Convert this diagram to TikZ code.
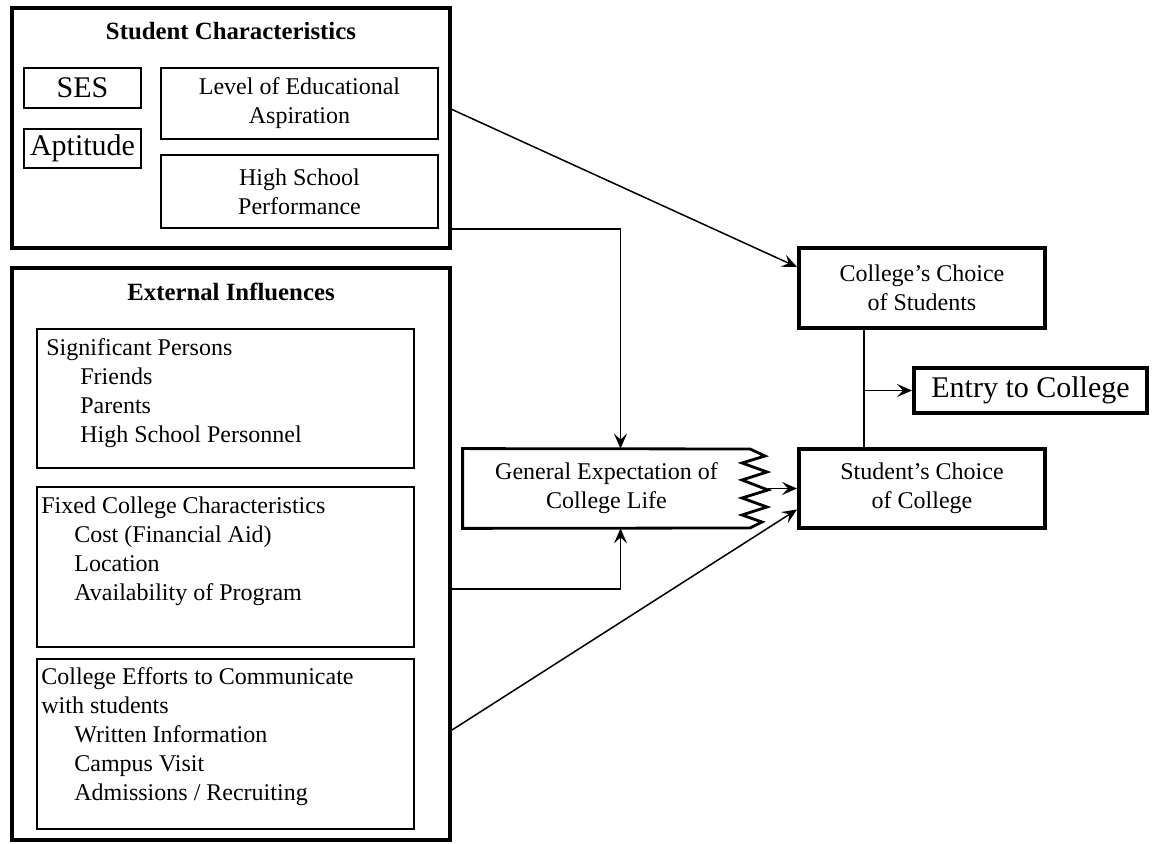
\documentclass[tikz,border=0pt]{standalone}
\usepackage{fontspec}
\setmainfont{Liberation Serif}
\usetikzlibrary{arrows.meta,calc}

\begin{document}
\begin{tikzpicture}[x=0.5pt,y=0.5pt,
    bigbox/.style={draw, line width=2pt, inner sep=0pt},
    smallbox/.style={draw, line width=1pt, inner sep=0pt, align=center, font=\fontsize{12}{14.5}\selectfont},
    choicebox/.style={draw, line width=2pt, inner sep=0pt, align=center, font=\fontsize{12}{14.5}\selectfont},
    heading/.style={font=\fontsize{12.4}{15}\selectfont\bfseries},
    listtext/.style={anchor=north west, inner sep=0pt, align=left, font=\fontsize{12}{14.5}\selectfont},
    link/.style={line width=0.75pt, -{Stealth[length=7.5pt,width=6.5pt,inset=3pt]}}]
    \useasboundingbox (0,0) rectangle (1155,844);

    \node[bigbox, minimum width=219pt, minimum height=120pt] (stud) at (231,716) {};
    \node[heading] (stitle) at (231,813) {Student Characteristics};
    \node[smallbox, minimum width=58.5pt, minimum height=20pt, font=\fontsize{15}{18}\selectfont] (ses) at (82.5,756) {SES};
    \node[smallbox, minimum width=58.5pt, minimum height=19.5pt, font=\fontsize{15}{18}\selectfont] (apt) at (82.5,695.5) {Aptitude};
    \node[smallbox, minimum width=138.5pt, minimum height=35.5pt] (level) at (299.5,740.5) {Level of Educational\\Aspiration};
    \node[smallbox, minimum width=138.5pt, minimum height=36.5pt] (hsp) at (299.5,652.5) {High School\\Performance};

    \node[bigbox, minimum width=219pt, minimum height=286pt] (ext) at (231,290) {};
    \node[heading] (etitle) at (231,552) {External Influences};
    \node[smallbox, minimum width=188.5pt, minimum height=69.5pt] (sig) at (225.5,445.5) {};
    \node[smallbox, minimum width=188.5pt, minimum height=80pt] (fixed) at (225.5,277) {};
    \node[smallbox, minimum width=188.5pt, minimum height=85pt] (effort) at (225.5,100) {};
    \node[listtext] (sigtxt) at ([xshift=5pt,yshift=-5pt]sig.north west)
        {Significant Persons\\ \hspace*{17pt}Friends\\ \hspace*{17pt}Parents\\ \hspace*{17pt}High School Personnel};
    \node[listtext] (fixedtxt) at ([xshift=2.5pt,yshift=-5pt]fixed.north west)
        {Fixed College Characteristics\\ \hspace*{16.5pt}Cost (Financial Aid)\\ \hspace*{16.5pt}Location\\ \hspace*{16.5pt}Availability of Program};
    \node[listtext] (efforttxt) at ([xshift=2.5pt,yshift=-4.5pt]effort.north west)
        {College Efforts to Communicate\\with students\\ \hspace*{16.5pt}Written Information\\ \hspace*{16.5pt}Campus Visit\\ \hspace*{16.5pt}Admissions / Recruiting};

    \node[align=center, inner sep=0pt, minimum width=143.5pt, minimum height=39.5pt, font=\fontsize{12}{14.5}\selectfont] (gen) at (606.5,355.5) {General Expectation of\\College Life};
    \draw[line width=1.4pt] (gen.north west) -- (750,395) -- (765,388) -- (742,381) -- (767,372) -- (742,364)
        -- (768,354) -- (742,346) -- (767,337) -- (742,329) -- (762,322) -- (750,316) -- (gen.south west) -- cycle;
    \coordinate (zigtip) at (768,355.5);

    \node[choicebox, minimum width=123pt, minimum height=40pt] (colch) at (922,556) {College's Choice\\of Students};
    \node[choicebox, minimum width=123pt, minimum height=39.5pt] (stch) at (922,355.5) {Student's Choice\\of College};
    \node[choicebox, minimum width=116.5pt, minimum height=22.5pt, font=\fontsize{15}{18}\selectfont] (entry) at (1030.5,453.5) {Entry to College};

    \draw[link] ($(stud.east |- level.east)+(0,-6)$) -- ($(colch.west)+(0,21)$);
    \draw[link] (stud.east |- hsp.south) -| ($(gen.north)+(14,0)$);
    \draw[link] ($(ext.east |- fixed.east)+(0,-22)$) -| ($(gen.south)+(14,0)$);
    \draw[link] ($(ext.east |- effort.east)+(0,14)$) -- ($(stch.west)+(0,-21)$);
    \draw[link] (zigtip) -- (stch.west);

    \coordinate (junc) at ($(colch.south)+(-58,0)$);
    \draw[line width=0.75pt] (junc) -- (junc |- stch.north);
    \draw[link] (junc |- entry.west) -- (entry.west);
\end{tikzpicture}
\end{document}
